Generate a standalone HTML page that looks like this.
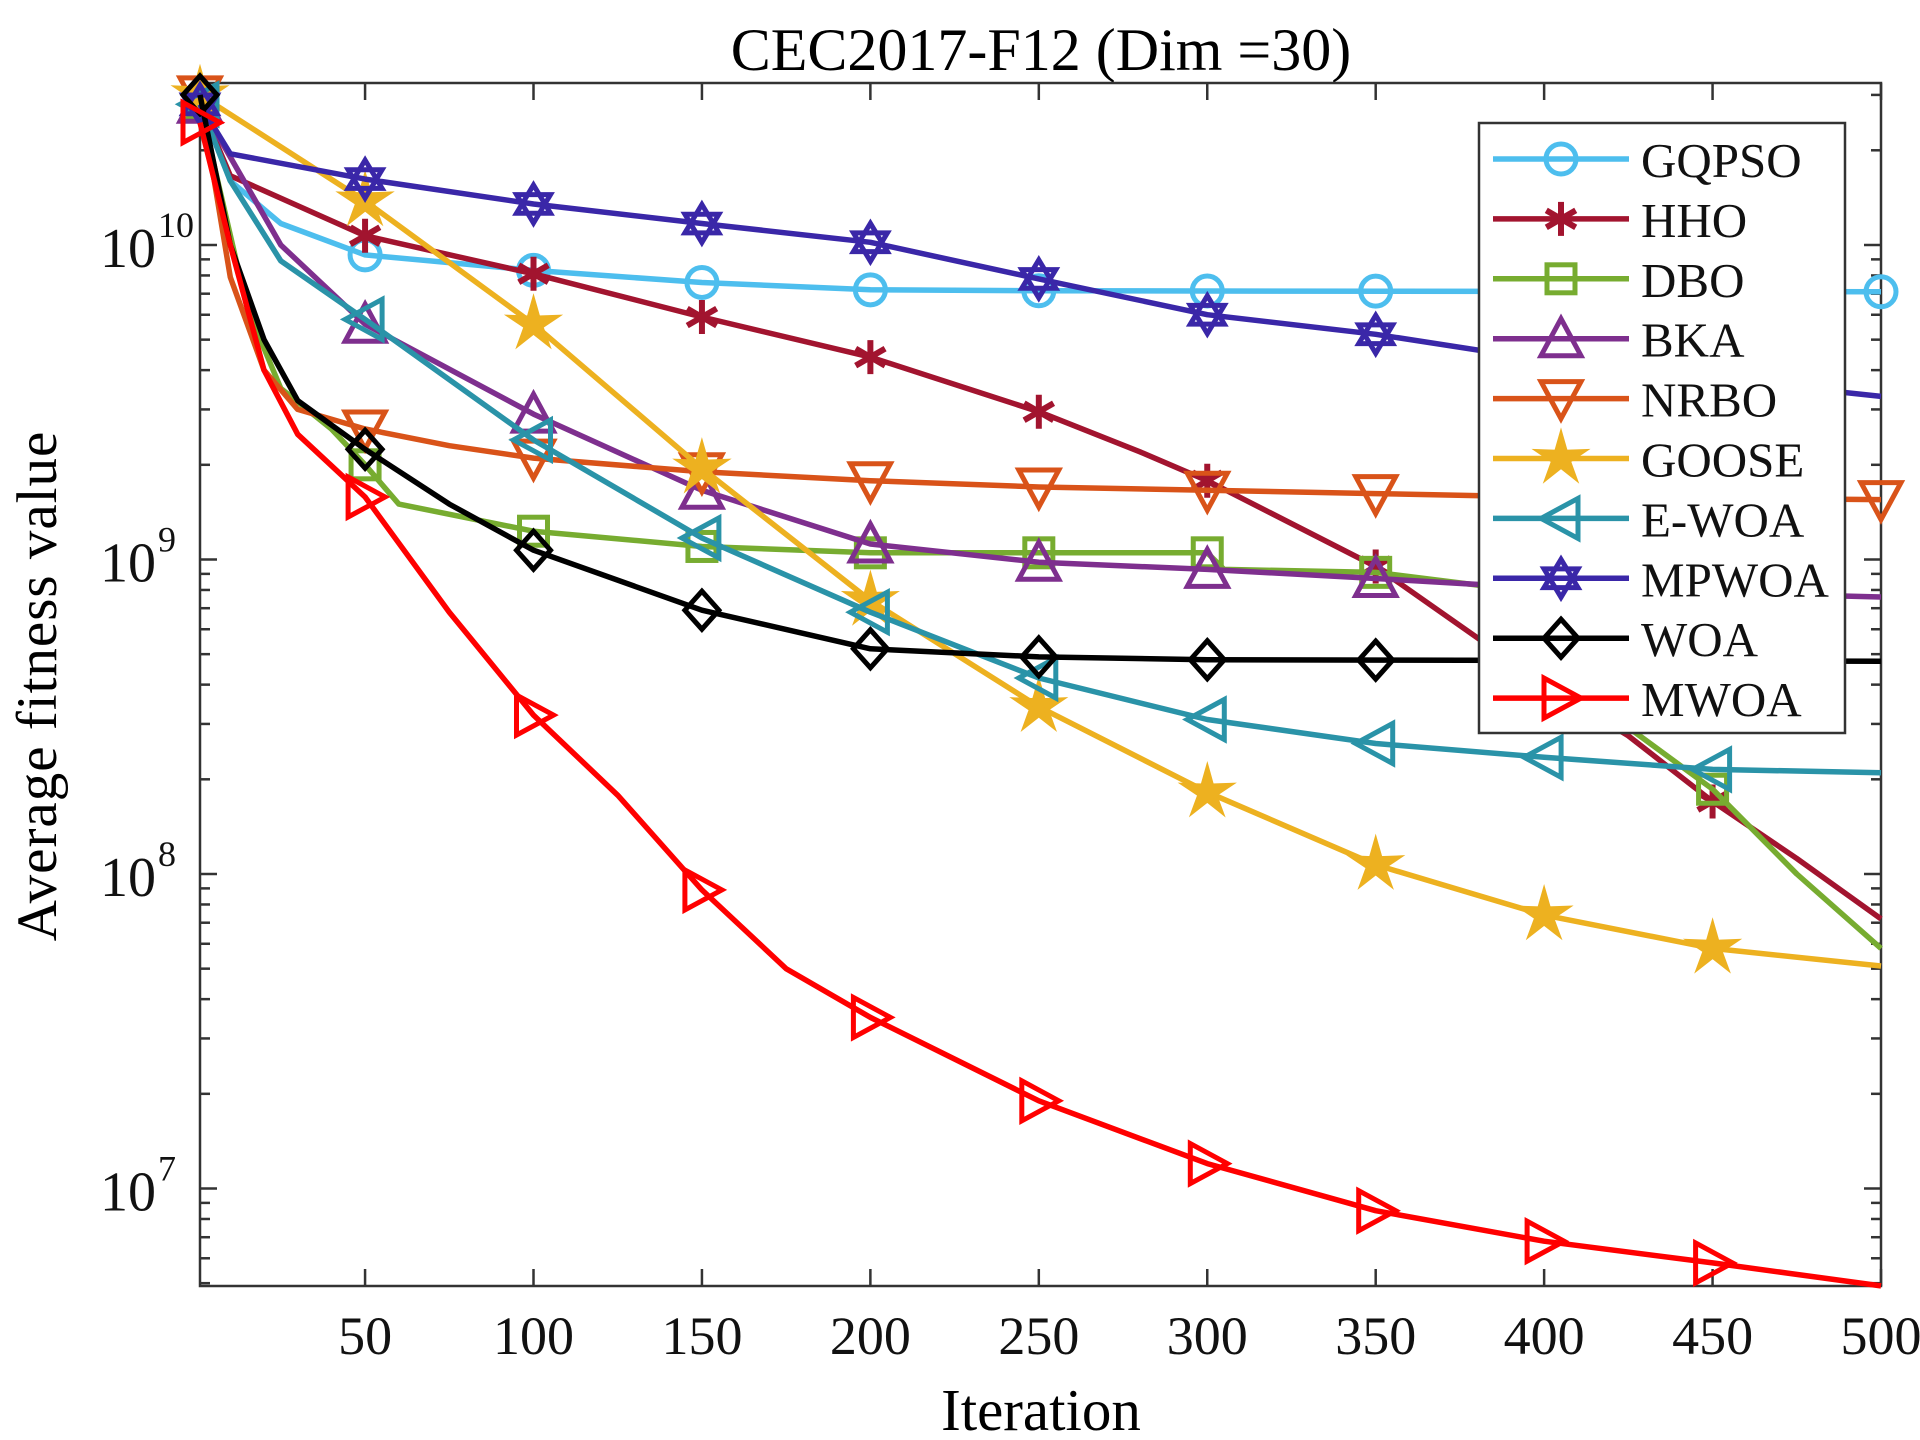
<!DOCTYPE html>
<html><head><meta charset="utf-8"><style>
html,body{margin:0;padding:0;background:#fff;}
svg{display:block;font-family:"Liberation Serif",serif;}
</style></head><body>
<svg id="chart" width="1920" height="1440" viewBox="0 0 1920 1440" xmlns="http://www.w3.org/2000/svg">
<rect width="1920" height="1440" fill="#fff"/>
<text x="1041" y="70" font-size="60" text-anchor="middle">CEC2017-F12 (Dim =30)</text>
<text x="1041" y="1430" font-size="59" text-anchor="middle">Iteration</text>
<text transform="translate(56,686) rotate(-90)" font-size="57" text-anchor="middle" letter-spacing="1">Average fitness value</text>
<g id="axes"></g>
<g id="series"></g>
<g id="legend"></g>
</svg>
<script>
const xTicks=[50,100,150,200,250,300,350,400,450,500];
const yDecades=[7,8,9,10];
const seriesNames=["GQPSO","HHO","DBO","BKA","NRBO","GOOSE","E-WOA","MPWOA","WOA","MWOA"];
const seriesColors=["#4DBEEE","#A2142F","#77AC30","#7E2F8E","#D95319","#EDB120","#2A93A8","#3A27A8","#000000","#FF0000"];
const seriesMarkers=["circle","asterisk","square","triangle-up","triangle-down","star","triangle-left","hexagram","diamond","triangle-right"];
const gqpsoX=[1,10,25,50,100,150,200,250,500];
const gqpsoY=[2.8e10,1.6e10,1.17e10,9.3e9,8.3e9,7.6e9,7.2e9,7.15e9,7.1e9];
const hhoX=[1,10,50,100,150,200,250,280,300,350,400,425,450,475,500];
const hhoY=[2.8e10,1.66e10,1.07e10,8.1e9,5.9e9,4.4e9,2.95e9,2.2e9,1.78e9,9.5e8,4.0e8,2.75e8,1.7e8,1.12e8,7.2e7];
const dboX=[1,15,25,40,50,60,100,150,200,300,305,350,400,420,450,475,500];
const dboY=[2.8e10,6.3e9,3.5e9,2.6e9,2.0e9,1.5e9,1.23e9,1.1e9,1.05e9,1.05e9,9.3e8,9.1e8,7.8e8,3.2e8,1.86e8,1.0e8,5.8e7];
const bkaX=[1,25,50,100,150,200,250,300,350,400,500];
const bkaY=[2.8e10,1.0e10,5.6e9,2.9e9,1.66e9,1.12e9,9.8e8,9.3e8,8.7e8,8.1e8,7.6e8];
const nrboX=[1,10,20,30,50,75,100,150,200,250,300,350,400,500];
const nrboY=[3.0e10,7.9e9,4.0e9,3.0e9,2.6e9,2.3e9,2.1e9,1.9e9,1.78e9,1.7e9,1.66e9,1.62e9,1.58e9,1.55e9];
const gooseX=[1,50,100,150,200,250,300,350,400,450,500];
const gooseY=[3.0e10,1.38e10,5.6e9,1.95e9,7.4e8,3.4e8,1.82e8,1.07e8,7.4e7,5.8e7,5.1e7];
const ewoaX=[1,10,25,50,100,150,200,250,300,350,400,450,500];
const ewoaY=[2.8e10,1.6e10,8.9e9,5.8e9,2.4e9,1.17e9,6.8e8,4.2e8,3.1e8,2.6e8,2.35e8,2.15e8,2.1e8];
const mpwoaX=[1,10,50,100,150,200,250,300,350,400,500];
const mpwoaY=[2.8e10,1.95e10,1.62e10,1.35e10,1.17e10,1.02e10,7.8e9,6.0e9,5.2e9,4.3e9,3.3e9];
const woaX=[1,10,20,30,50,75,100,150,200,250,300,500];
const woaY=[3.0e10,1.0e10,5.0e9,3.2e9,2.24e9,1.5e9,1.07e9,6.9e8,5.2e8,4.9e8,4.8e8,4.75e8];
const mwoaX=[1,10,20,30,50,75,100,125,150,175,200,250,300,350,400,450,500];
const mwoaY=[2.45e10,1.0e10,4.0e9,2.5e9,1.58e9,6.8e8,3.2e8,1.78e8,8.9e7,5.0e7,3.5e7,1.9e7,1.2e7,8.5e6,6.8e6,5.8e6,4.9e6];
const markerIters=[1,50,100,150,200,250,300,350,400,450];
const endMarkerSeries=["GQPSO","NRBO"];

const allX=[gqpsoX,hhoX,dboX,bkaX,nrboX,gooseX,ewoaX,mpwoaX,woaX,mwoaX];
const allY=[gqpsoY,hhoY,dboY,bkaY,nrboY,gooseY,ewoaY,mpwoaY,woaY,mwoaY];

const NS="http://www.w3.org/2000/svg";
const L=200,R=1881,T=83,B=1286;
const xMin=1,xMax=500,lMin=6.69,lMax=10.515;
function sx(v){return L+(v-xMin)/(xMax-xMin)*(R-L);}
function sy(v){return B-(Math.log10(v)-lMin)/(lMax-lMin)*(B-T);}
function mk(tag,attrs,parent){const e=document.createElementNS(NS,tag);for(const k in attrs)e.setAttribute(k,attrs[k]);parent.appendChild(e);return e;}
const axes=document.getElementById('axes');
const ser=document.getElementById('series');
const leg=document.getElementById('legend');

const defs=mk('defs',{},document.getElementById('chart'));
const cp=mk('clipPath',{id:'plotclip'},defs);
mk('rect',{x:L-30,y:T-30,width:R-L+60,height:B-T+60},cp);

const frame=mk('rect',{x:L,y:T,width:R-L,height:B-T,fill:'none',stroke:'#333','stroke-width':2.5},axes);



xTicks.forEach(t=>{
  const x=sx(t);
  mk('line',{x1:x,y1:B,x2:x,y2:B-17,stroke:'#333','stroke-width':2.5},axes);
  mk('line',{x1:x,y1:T,x2:x,y2:T+17,stroke:'#333','stroke-width':2.5},axes);
  const lb=mk('text',{x:x,y:1354,'font-size':54,'text-anchor':'middle',fill:'#111'},axes);
  lb.textContent=String(t);
  
  
});
for(let d=6;d<=10;d++){
  for(let m=1;m<=9;m++){
    const v=m*Math.pow(10,d);
    const lv=Math.log10(v);
    if(lv<lMin||lv>lMax)continue;
    const y=sy(v);const len=m===1?17:10;
    mk('line',{x1:L,y1:y,x2:L+len,y2:y,stroke:'#333','stroke-width':2.5},axes);
    mk('line',{x1:R,y1:y,x2:R-len,y2:y,stroke:'#333','stroke-width':2.5},axes);
  }
}
yDecades.forEach(d=>{
  const y=sy(Math.pow(10,d));
  const tx=mk('text',{x:156,y:y+22,'font-size':56,'text-anchor':'end',fill:'#111'},axes);
  tx.textContent='10';
  
  
  const sp=mk('text',{x:158,y:y-8,'font-size':36,'text-anchor':'start',fill:'#111'},axes);
  sp.textContent=String(d);
  
  
});

function interp(xs,ys,x){
  for(let i=0;i<xs.length-1;i++){
    if(x>=xs[i]&&x<=xs[i+1]){
      const f=(x-xs[i])/(xs[i+1]-xs[i]);
      return Math.pow(10,Math.log10(ys[i])+f*(Math.log10(ys[i+1])-Math.log10(ys[i])));
    }
  }
  return ys[ys.length-1];
}
function marker(type,cx,cy,color,parent){
  const r=17,sw=5;
  const g=mk('g',{fill:'none',stroke:color,'stroke-width':sw,'stroke-linejoin':'miter'},parent);
  const poly=(pts)=>mk('polygon',{points:pts.map(p=>(cx+p[0]).toFixed(1)+','+(cy+p[1]).toFixed(1)).join(' ')},g);
  if(type==='circle')mk('circle',{cx:cx,cy:cy,r:r-2},g);
  else if(type==='square')mk('rect',{x:cx-14,y:cy-14,width:28,height:28},g);
  else if(type==='diamond')poly([[0,-r-2],[r,0],[0,r+2],[-r,0]]);
  else if(type==='triangle-up')poly([[0,-r-3],[r+3,r],[-r-3,r]]);
  else if(type==='triangle-down')poly([[0,r+3],[r+3,-r],[-r-3,-r]]);
  else if(type==='triangle-left')poly([[-r-3,0],[r,-r-3],[r,r+3]]);
  else if(type==='triangle-right')poly([[r+3,0],[-r,-r-3],[-r,r+3]]);
  else if(type==='asterisk'){for(let a=0;a<3;a++){const an=a*Math.PI/3+Math.PI/2;mk('line',{x1:cx-Math.cos(an)*r,y1:cy-Math.sin(an)*r,x2:cx+Math.cos(an)*r,y2:cy+Math.sin(an)*r,'stroke-width':6},g);}}
  else if(type==='star'){const pts=[];for(let i=0;i<10;i++){const an=-Math.PI/2+i*Math.PI/5;const rr=i%2?r*0.45:r+5;pts.push([Math.cos(an)*rr,Math.sin(an)*rr]);}g.setAttribute('fill',color);poly(pts);}
  else if(type==='hexagram'){poly([[0,-r-2],[r,r*0.55],[-r,r*0.55]]);poly([[0,r+2],[r,-r*0.55],[-r,-r*0.55]]);}
  return g;
}

allX.forEach((xs,si)=>{
  const g=mk('g',{'clip-path':'url(#plotclip)'},ser);
  
  
  const ys=allY[si];
  const d=xs.map((x,i)=>(i?'L':'M')+sx(x).toFixed(1)+','+sy(ys[i]).toFixed(1)).join(' ');
  mk('path',{d:d,fill:'none',stroke:seriesColors[si],'stroke-width':5.5,'stroke-linejoin':'round'},g);
  const its=endMarkerSeries.includes(seriesNames[si])?markerIters.concat([500]):markerIters;
  its.forEach(mi=>{
    const m=marker(seriesMarkers[si],sx(mi),sy(interp(xs,ys,mi)),seriesColors[si],g);
    
    
  });
});

const lbox=mk('rect',{x:1479,y:123,width:366,height:610,fill:'#fff',stroke:'#333','stroke-width':2.5},leg);


seriesNames.forEach((n,i)=>{
  const y=159+i*59.9;
  const g=mk('g',{},leg);
  
  
  mk('line',{x1:1493,y1:y,x2:1629,y2:y,stroke:seriesColors[i],'stroke-width':5.5},g);
  marker(seriesMarkers[i],1561,y,seriesColors[i],g);
  const t=mk('text',{x:1641,y:y+18,'font-size':49,fill:'#111'},g);
  t.textContent=n;
});
</script>
</body></html>
